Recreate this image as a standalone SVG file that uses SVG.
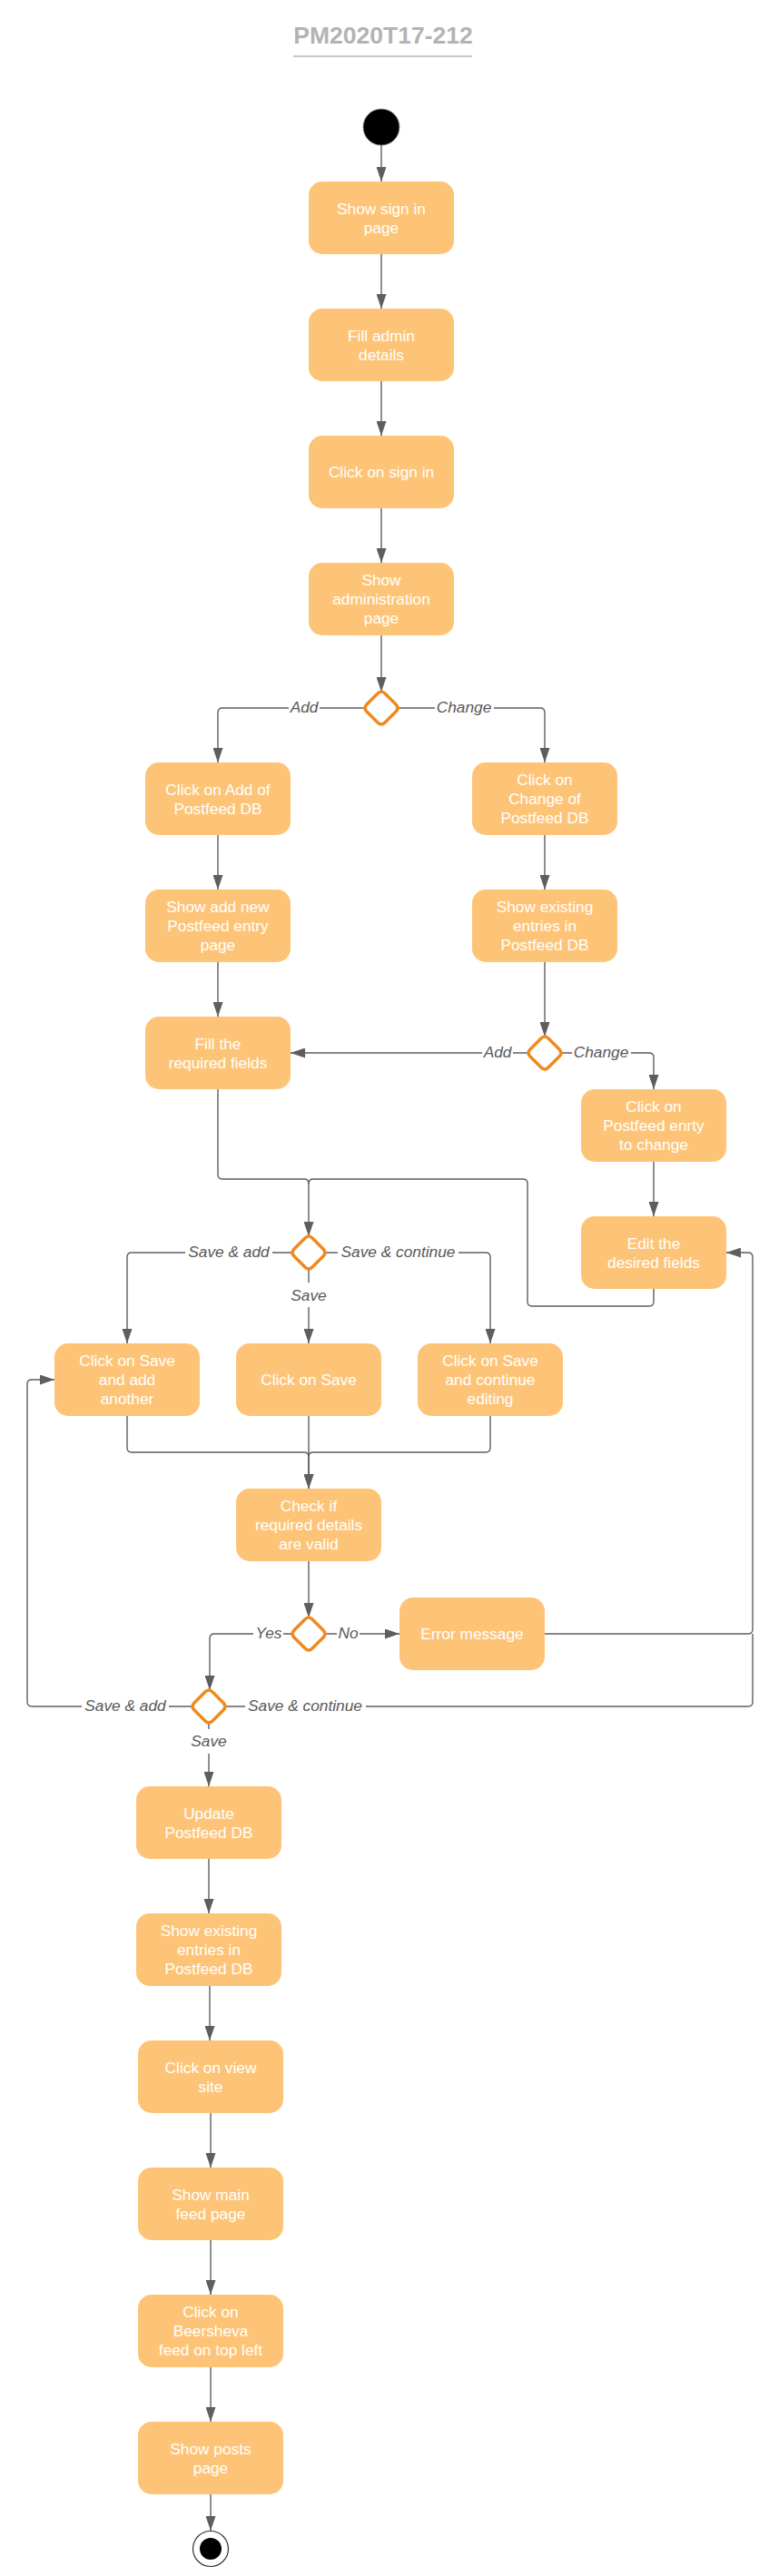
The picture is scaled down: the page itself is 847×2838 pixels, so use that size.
<svg xmlns="http://www.w3.org/2000/svg" width="847" height="2838" viewBox="0 0 847 2838">
<defs>
<marker id="ah" markerUnits="userSpaceOnUse" markerWidth="16" markerHeight="11" refX="16" refY="5.5" orient="auto">
<path d="M0,0 L16,5.5 L0,11 z" fill="#5e5e5e"/>
</marker>
<style>
.n rect{fill:#fdc477;}
.n text{font-family:"Liberation Sans",Arial,sans-serif;font-size:17.3px;fill:#ffffff;text-anchor:middle;}
.c path{fill:none;stroke:#5e5e5e;stroke-width:1.4;}
.c .a{marker-end:url(#ah);}
.lbl{font-family:"Liberation Sans",Arial,sans-serif;font-size:17.3px;font-style:italic;fill:#595959;text-anchor:middle;}
.bg{fill:#ffffff;}
.d path{fill:#ffffff;stroke:#ef8a1e;stroke-width:3.5;stroke-linejoin:round;}
</style>
</defs>
<rect width="847" height="2838" fill="#ffffff"/>
<g id="title">
<text x="422" y="48" font-family="Liberation Sans,Arial,sans-serif" font-weight="bold" font-size="26.5" fill="#b3b3b3" text-anchor="middle">PM2020T17-212</text>
<line x1="323" y1="62" x2="520" y2="62" stroke="#b3b3b3" stroke-width="1.5"/>
</g>

<g id="connectors" class="c">
<path class="a" d="M420 160 V200"/>
<path class="a" d="M420 280 V340"/>
<path class="a" d="M420 420 V480"/>
<path class="a" d="M420 560 V620"/>
<path class="a" d="M420 700 V762"/>
<path class="a" d="M402 780 H245 Q240 780 240 785 V840"/>
<path class="a" d="M438 780 H595 Q600 780 600 785 V840"/>
<path class="a" d="M240 920 V980"/>
<path class="a" d="M600 920 V980"/>
<path class="a" d="M240 1060 V1120"/>
<path class="a" d="M600 1060 V1142"/>
<path class="a" d="M582 1160 H320"/>
<path class="a" d="M618 1160 H715 Q720 1160 720 1165 V1200"/>
<path class="a" d="M720 1280 V1340"/>
<path class="a" d="M240 1200 V1294 Q240 1299 245 1299 H335 Q340 1299 340 1304 V1362"/>
<path d="M720 1420 V1434 Q720 1439 715 1439 H586 Q581 1439 581 1434 V1304 Q581 1299 576 1299 H345 Q340 1299 340 1304"/>
<path class="a" d="M322 1380 H145 Q140 1380 140 1385 V1480"/>
<path class="a" d="M358 1380 H535 Q540 1380 540 1385 V1480"/>
<path class="a" d="M340 1398 V1480"/>
<path class="a" d="M140 1560 V1595 Q140 1600 145 1600 H335 Q340 1600 340 1605 V1640"/>
<path class="a" d="M340 1560 V1640"/>
<path d="M540 1560 V1595 Q540 1600 535 1600 H345 Q340 1600 340 1605"/>
<path class="a" d="M340 1720 V1782"/>
<path class="a" d="M358 1800 H440"/>
<path class="a" d="M322 1800 H236 Q231 1800 231 1805 V1862"/>
<path class="a" d="M600 1800 H824 Q829 1800 829 1795 V1385 Q829 1380 824 1380 H800"/>
<path d="M248 1880 H824 Q829 1880 829 1875 V1800"/>
<path class="a" d="M212 1880 H35 Q30 1880 30 1875 V1525 Q30 1520 35 1520 H60"/>
<path class="a" d="M230 1898 V1968"/>
<path class="a" d="M230 2048 V2108"/>
<path class="a" d="M231 2188 V2248"/>
<path class="a" d="M232 2328 V2388"/>
<path class="a" d="M232 2468 V2528"/>
<path class="a" d="M232 2608 V2668"/>
<path class="a" d="M232 2748 V2788"/>
<g id="labels">
<rect class="bg" x="318" y="773" width="34" height="14"/><text class="lbl" x="335" y="785">Add</text>
<rect class="bg" x="479" y="773" width="65" height="14"/><text class="lbl" x="511" y="785">Change</text>
<rect class="bg" x="531" y="1153" width="34" height="14"/><text class="lbl" x="548" y="1165">Add</text>
<rect class="bg" x="630" y="1153" width="65" height="14"/><text class="lbl" x="662" y="1165">Change</text>
<rect class="bg" x="204" y="1373" width="96" height="14"/><text class="lbl" x="252" y="1385">Save &amp; add</text>
<rect class="bg" x="372" y="1373" width="133" height="14"/><text class="lbl" x="438.5" y="1385">Save &amp; continue</text>
<rect class="bg" x="319" y="1413" width="42" height="27"/><text class="lbl" x="340" y="1433">Save</text>
<rect class="bg" x="279" y="1793" width="33" height="14"/><text class="lbl" x="296" y="1805">Yes</text>
<rect class="bg" x="371" y="1793" width="25" height="14"/><text class="lbl" x="383.5" y="1805">No</text>
<rect class="bg" x="90" y="1873" width="96" height="14"/><text class="lbl" x="138" y="1885">Save &amp; add</text>
<rect class="bg" x="270" y="1873" width="133" height="14"/><text class="lbl" x="336" y="1885">Save &amp; continue</text>
<rect class="bg" x="209" y="1905" width="42" height="27"/><text class="lbl" x="230" y="1924">Save</text>
</g>
</g>

<g id="start"><circle cx="420" cy="140" r="20" fill="#000000" stroke="#888888" stroke-width="0.8"/></g>

<g id="n1" class="n"><rect x="340" y="200" width="160" height="80" rx="15"/><text x="420" y="235.5">Show sign in</text><text x="420" y="256.5">page</text></g>
<g id="n2" class="n"><rect x="340" y="340" width="160" height="80" rx="15"/><text x="420" y="375.5">Fill admin</text><text x="420" y="396.5">details</text></g>
<g id="n3" class="n"><rect x="340" y="480" width="160" height="80" rx="15"/><text x="420" y="526">Click on sign in</text></g>
<g id="n4" class="n"><rect x="340" y="620" width="160" height="80" rx="15"/><text x="420" y="645">Show</text><text x="420" y="666">administration</text><text x="420" y="687">page</text></g>

<g id="d1" class="d"><path d="M416 764 Q420 760 424 764 L436 776 Q440 780 436 784 L424 796 Q420 800 416 796 L404 784 Q400 780 404 776 Z"/></g>

<g id="n5" class="n"><rect x="160" y="840" width="160" height="80" rx="15"/><text x="240" y="875.5">Click on Add of</text><text x="240" y="896.5">Postfeed DB</text></g>
<g id="n6" class="n"><rect x="520" y="840" width="160" height="80" rx="15"/><text x="600" y="865">Click on</text><text x="600" y="886">Change of</text><text x="600" y="907">Postfeed DB</text></g>
<g id="n7" class="n"><rect x="160" y="980" width="160" height="80" rx="15"/><text x="240" y="1005">Show add new</text><text x="240" y="1026">Postfeed entry</text><text x="240" y="1047">page</text></g>
<g id="n8" class="n"><rect x="520" y="980" width="160" height="80" rx="15"/><text x="600" y="1005">Show existing</text><text x="600" y="1026">entries in</text><text x="600" y="1047">Postfeed DB</text></g>
<g id="d2" class="d"><path d="M596 1144 Q600 1140 604 1144 L616 1156 Q620 1160 616 1164 L604 1176 Q600 1180 596 1176 L584 1164 Q580 1160 584 1156 Z"/></g>
<g id="n9" class="n"><rect x="160" y="1120" width="160" height="80" rx="15"/><text x="240" y="1155.5">Fill the</text><text x="240" y="1176.5">required fields</text></g>
<g id="n10" class="n"><rect x="640" y="1200" width="160" height="80" rx="15"/><text x="720" y="1225">Click on</text><text x="720" y="1246">Postfeed enrty</text><text x="720" y="1267">to change</text></g>
<g id="n11" class="n"><rect x="640" y="1340" width="160" height="80" rx="15"/><text x="720" y="1375.5">Edit the</text><text x="720" y="1396.5">desired fields</text></g>

<g id="d3" class="d"><path d="M336 1364 Q340 1360 344 1364 L356 1376 Q360 1380 356 1384 L344 1396 Q340 1400 336 1396 L324 1384 Q320 1380 324 1376 Z"/></g>

<g id="n12" class="n"><rect x="60" y="1480" width="160" height="80" rx="15"/><text x="140" y="1505">Click on Save</text><text x="140" y="1526">and add</text><text x="140" y="1547">another</text></g>
<g id="n13" class="n"><rect x="260" y="1480" width="160" height="80" rx="15"/><text x="340" y="1526">Click on Save</text></g>
<g id="n14" class="n"><rect x="460" y="1480" width="160" height="80" rx="15"/><text x="540" y="1505">Click on Save</text><text x="540" y="1526">and continue</text><text x="540" y="1547">editing</text></g>
<g id="n15" class="n"><rect x="260" y="1640" width="160" height="80" rx="15"/><text x="340" y="1665">Check if</text><text x="340" y="1686">required details</text><text x="340" y="1707">are valid</text></g>

<g id="d4" class="d"><path d="M336 1784 Q340 1780 344 1784 L356 1796 Q360 1800 356 1804 L344 1816 Q340 1820 336 1816 L324 1804 Q320 1800 324 1796 Z"/></g>
<g id="n16" class="n"><rect x="440" y="1760" width="160" height="80" rx="15"/><text x="520" y="1806">Error message</text></g>
<g id="d5" class="d"><path d="M226 1864 Q230 1860 234 1864 L246 1876 Q250 1880 246 1884 L234 1896 Q230 1900 226 1896 L214 1884 Q210 1880 214 1876 Z"/></g>

<g id="n17" class="n"><rect x="150" y="1968" width="160" height="80" rx="15"/><text x="230" y="2003.5">Update</text><text x="230" y="2024.5">Postfeed DB</text></g>
<g id="n18" class="n"><rect x="150" y="2108" width="160" height="80" rx="15"/><text x="230" y="2133">Show existing</text><text x="230" y="2154">entries in</text><text x="230" y="2175">Postfeed DB</text></g>
<g id="n19" class="n"><rect x="152" y="2248" width="160" height="80" rx="15"/><text x="232" y="2283.5">Click on view</text><text x="232" y="2304.5">site</text></g>
<g id="n20" class="n"><rect x="152" y="2388" width="160" height="80" rx="15"/><text x="232" y="2423.5">Show main</text><text x="232" y="2444.5">feed page</text></g>
<g id="n21" class="n"><rect x="152" y="2528" width="160" height="80" rx="15"/><text x="232" y="2553">Click on</text><text x="232" y="2574">Beersheva</text><text x="232" y="2595">feed on top left</text></g>
<g id="n22" class="n"><rect x="152" y="2668" width="160" height="80" rx="15"/><text x="232" y="2703.5">Show posts</text><text x="232" y="2724.5">page</text></g>

<g id="end"><circle cx="232" cy="2808" r="19.5" fill="#ffffff" stroke="#333333" stroke-width="1.2"/><circle cx="232" cy="2808" r="12" fill="#000000"/></g>
</svg>
